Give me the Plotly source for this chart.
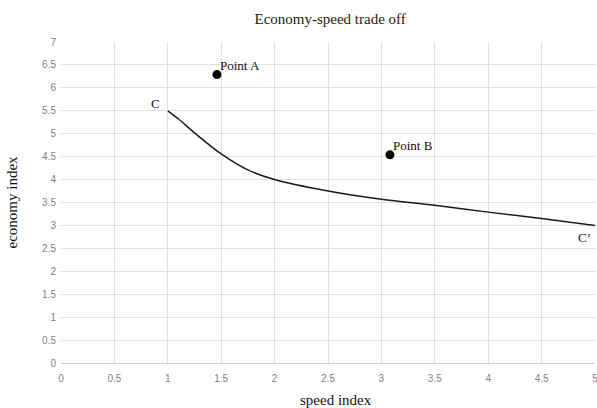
import plotly.graph_objects as go

curve_x = [1, 1.1, 1.25, 1.5, 1.75, 2, 2.5, 3, 3.5, 4, 4.5, 5]
curve_y = [5.5, 5.32, 5.02, 4.56, 4.21, 4.0, 3.75, 3.57, 3.44, 3.29, 3.15, 3.0]
point_names = ["Point A", "Point B"]
point_x = [1.46, 3.08]
point_y = [6.29, 4.54]
x_ticks = [0, 0.5, 1, 1.5, 2, 2.5, 3, 3.5, 4, 4.5, 5]
x_tick_text = ["0", "0.5", "1", "1.5", "2", "2.5", "3", "3.5", "4", "4.5", "5"]
y_ticks = [0, 0.5, 1, 1.5, 2, 2.5, 3, 3.5, 4, 4.5, 5, 5.5, 6, 6.5, 7]
y_tick_text = ["0", "0.5", "1", "1.5", "2", "2.5", "3", "3.5", "4", "4.5", "5", "5.5", "6", "6.5", "7"]

serif = "Liberation Serif, Times New Roman, serif"
sans = "Liberation Sans, Arial, sans-serif"

fig = go.Figure()
fig.add_trace(go.Scatter(x=curve_x, y=curve_y, mode="lines",
                         line=dict(color="#1a1a1a", width=1.5, shape="spline", smoothing=1.0),
                         showlegend=False, hoverinfo="skip", cliponaxis=False))
fig.add_trace(go.Scatter(x=point_x, y=point_y, mode="markers",
                         marker=dict(color="black", size=9),
                         showlegend=False))

for name, px, py in zip(point_names, point_x, point_y):
    fig.add_annotation(x=px, y=py, text=name, showarrow=False,
                       xanchor="left", yanchor="bottom", xshift=1, yshift=0,
                       font=dict(family=serif, size=13, color="#111"))

fig.add_annotation(x=curve_x[0], y=curve_y[0], text="C", showarrow=False,
                   xanchor="right", yanchor="bottom", xshift=-6, yshift=-2,
                   font=dict(family=serif, size=13, color="#111"))
fig.add_annotation(x=curve_x[-1], y=curve_y[-1], text="C’", showarrow=False,
                   xanchor="right", yanchor="top", xshift=-2, yshift=-3,
                   font=dict(family=serif, size=13, color="#111"))

fig.add_annotation(xref="paper", yref="paper", x=0.515, y=0, text="speed index",
                   showarrow=False, xanchor="center", yanchor="middle", yshift=-37,
                   font=dict(family=serif, size=15, color="#111"))
fig.add_annotation(xref="paper", yref="paper", x=0, y=0.5, text="economy index",
                   showarrow=False, xanchor="center", yanchor="middle", xshift=-50,
                   textangle=-90, font=dict(family=serif, size=15, color="#111"))

fig.update_layout(
    width=597, height=408,
    margin=dict(l=61, r=2, t=42, b=45, autoexpand=False),
    paper_bgcolor="white", plot_bgcolor="white",
    title=dict(text="Economy-speed trade off", x=0.553, xanchor="center", y=0.955, yanchor="middle",
               automargin=False,
               font=dict(family=serif, size=15, color="#222")),
    xaxis=dict(range=[0, 5], tickvals=x_ticks, ticktext=x_tick_text, automargin=False,
               showgrid=True, gridcolor="#e0e0e0", gridwidth=1,
               zeroline=False, showline=True, linecolor="#cfcfcf", linewidth=1,
               ticks="", ticklen=0, ticklabeloverflow="allow", ticklabelstandoff=6,
               tickfont=dict(family=sans, size=10, color="#7f7f7f")),
    yaxis=dict(range=[0, 7], tickvals=y_ticks, ticktext=y_tick_text, automargin=False,
               showgrid=True, gridcolor="#e0e0e0", gridwidth=1,
               zeroline=False, showline=False, ticklabeloverflow="allow", ticklabelstandoff=4,
               ticks="", tickfont=dict(family=sans, size=10, color="#7f7f7f")),
)

fig.write_html("out.html", post_script="document.body.style.margin='0';",
               config={"displayModeBar": False})
